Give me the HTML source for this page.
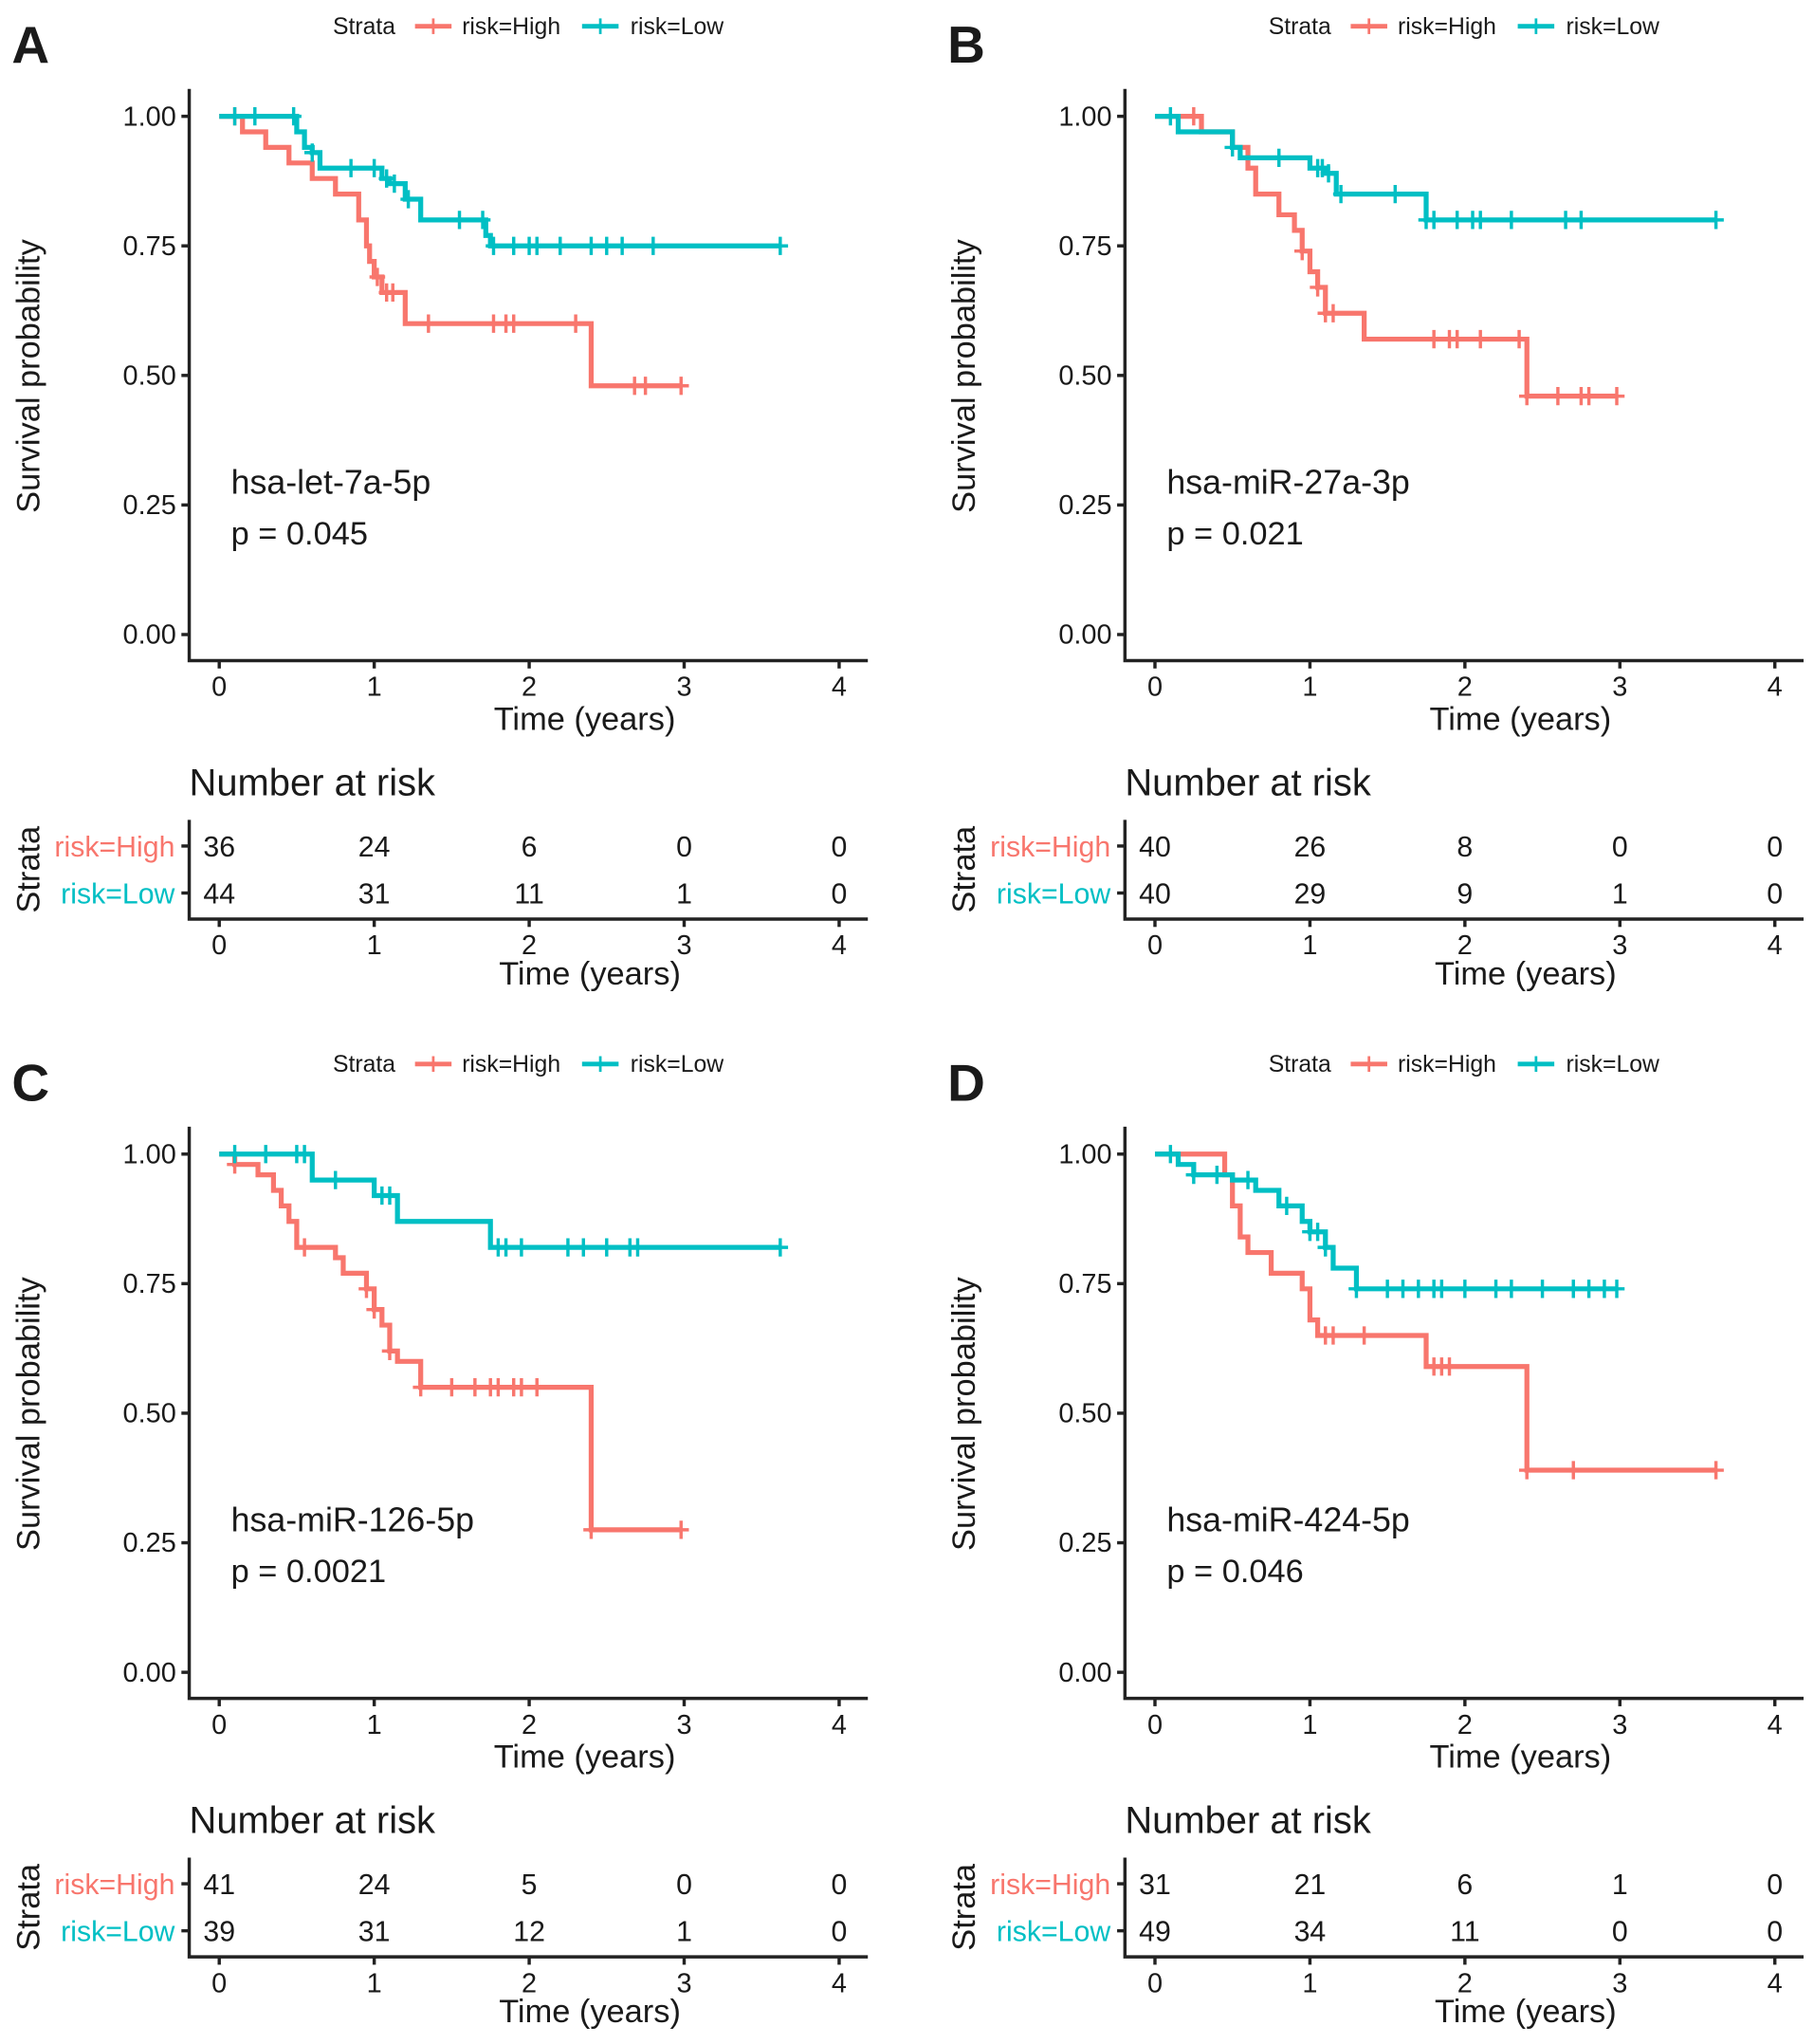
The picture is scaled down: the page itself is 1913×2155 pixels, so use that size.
<!DOCTYPE html>
<html><head><meta charset="utf-8"><style>
html,body{margin:0;padding:0;background:#fff;}
svg text{font-family:"Liberation Sans",sans-serif;fill:#1a1a1a;}
</style></head><body>
<svg id="fig" xmlns="http://www.w3.org/2000/svg" width="1913" height="2150" viewBox="0 0 1390 1562"></svg>
<script>
// ---- data ----
const panelLetters = ["A","B","C","D"];
const geneNames = ["hsa-let-7a-5p","hsa-miR-27a-3p","hsa-miR-126-5p","hsa-miR-424-5p"];
const pValues = ["p = 0.045","p = 0.021","p = 0.0021","p = 0.046"];
const xTicks = [0,1,2,3,4];
const yTicks = [0,0.25,0.5,0.75,1];
const yTickLabels = ["0.00","0.25","0.50","0.75","1.00"];
// step curves: [time, survival after step]
const highA = [[0,1],[0.15,0.97],[0.3,0.94],[0.45,0.91],[0.6,0.88],[0.75,0.85],[0.9,0.80],[0.95,0.75],[0.97,0.72],[1.0,0.69],[1.05,0.66],[1.2,0.60],[2.4,0.48],[2.98,0.48]];
const lowA = [[0,1],[0.5,0.97],[0.55,0.94],[0.6,0.93],[0.65,0.90],[1.05,0.88],[1.1,0.87],[1.2,0.84],[1.3,0.80],[1.72,0.77],[1.75,0.75],[3.62,0.75]];
const highB = [[0,1],[0.3,0.97],[0.5,0.94],[0.6,0.90],[0.65,0.85],[0.8,0.81],[0.9,0.78],[0.95,0.74],[1.0,0.70],[1.05,0.67],[1.1,0.62],[1.35,0.57],[2.4,0.46],[2.98,0.46]];
const lowB = [[0,1],[0.15,0.97],[0.5,0.94],[0.55,0.92],[1.0,0.90],[1.1,0.89],[1.17,0.85],[1.75,0.80],[3.62,0.80]];
const highC = [[0,1],[0.1,0.98],[0.25,0.96],[0.35,0.93],[0.4,0.90],[0.45,0.87],[0.5,0.82],[0.75,0.80],[0.8,0.77],[0.95,0.74],[1.0,0.70],[1.05,0.67],[1.1,0.62],[1.15,0.60],[1.3,0.55],[2.4,0.275],[2.98,0.275]];
const lowC = [[0,1],[0.6,0.95],[1.0,0.92],[1.15,0.87],[1.75,0.82],[3.62,0.82]];
const highD = [[0,1],[0.45,0.96],[0.5,0.90],[0.55,0.84],[0.6,0.81],[0.75,0.77],[0.95,0.74],[1.0,0.68],[1.05,0.65],[1.75,0.59],[2.4,0.39],[3.62,0.39]];
const lowD = [[0,1],[0.15,0.98],[0.25,0.96],[0.5,0.95],[0.65,0.93],[0.8,0.90],[0.95,0.87],[1.0,0.85],[1.1,0.82],[1.15,0.78],[1.3,0.74],[2.98,0.74]];
const highCensA = [0.1,1.02,1.08,1.12,1.35,1.77,1.85,1.9,2.3,2.68,2.75,2.98];
const lowCensA = [0.1,0.23,0.48,0.6,0.85,1.0,1.08,1.13,1.22,1.55,1.7,1.77,1.9,2.0,2.05,2.2,2.4,2.5,2.6,2.8,3.62];
const highCensB = [0.25,0.95,1.05,1.1,1.15,1.8,1.9,1.95,2.1,2.35,2.4,2.6,2.75,2.8,2.98];
const lowCensB = [0.1,0.5,0.8,1.05,1.08,1.12,1.2,1.55,1.75,1.8,1.95,2.05,2.1,2.3,2.65,2.75,3.62];
const highCensC = [0.1,0.55,0.95,1.0,1.1,1.3,1.5,1.65,1.75,1.8,1.9,1.95,2.05,2.4,2.98];
const lowCensC = [0.1,0.3,0.5,0.55,0.75,1.05,1.1,1.8,1.85,1.95,2.25,2.35,2.5,2.65,2.7,3.62];
const highCensD = [1.1,1.15,1.35,1.8,1.85,1.9,2.4,2.7,3.62];
const lowCensD = [0.1,0.25,0.4,0.6,0.85,1.0,1.05,1.1,1.3,1.5,1.6,1.7,1.8,1.85,2.0,2.2,2.3,2.5,2.7,2.8,2.9,2.98];
const riskHighA = [36,24,6,0,0], riskLowA = [44,31,11,1,0];
const riskHighB = [40,26,8,0,0], riskLowB = [40,29,9,1,0];
const riskHighC = [41,24,5,0,0], riskLowC = [39,31,12,1,0];
const riskHighD = [31,21,6,1,0], riskLowD = [49,34,11,0,0];

const RED="#F8766D", TEAL="#00BFC4";
const svg=document.getElementById('fig');
const NS="http://www.w3.org/2000/svg";
function mk(tag,attrs,parent,txt){const e=document.createElementNS(NS,tag);for(const k in attrs)e.setAttribute(k,attrs[k]);if(txt!==undefined)e.textContent=txt;parent.appendChild(e);return e;}

const panels=[
 {dx:0,dy:0,high:highA,low:lowA,hc:highCensA,lc:lowCensA,rh:riskHighA,rl:riskLowA},
 {dx:717,dy:0,high:highB,low:lowB,hc:highCensB,lc:lowCensB,rh:riskHighB,rl:riskLowB},
 {dx:0,dy:795,high:highC,low:lowC,hc:highCensC,lc:lowCensC,rh:riskHighC,rl:riskLowC},
 {dx:717,dy:795,high:highD,low:lowD,hc:highCensD,lc:lowCensD,rh:riskHighD,rl:riskLowD}];

panels.forEach((p,i)=>{
 const g=mk('g',{transform:`translate(${p.dx},${p.dy})`},svg);
 
 
 const X=t=>168+118.75*t, Y=s=>486-397*s;
 let e;
 e=mk('text',{x:9,y:48,'font-size':40,'font-weight':'bold'},g,panelLetters[i]);
 
 // legend
 const lg=mk('g',{},g);
 mk('text',{x:255,y:26,'font-size':18},lg,'Strata');
 mk('line',{x1:318,x2:346,y1:20,y2:20,stroke:RED,'stroke-width':3.5},lg);
 mk('line',{x1:332,x2:332,y1:14,y2:26,stroke:RED,'stroke-width':2},lg);
 e=mk('text',{x:354,y:26,'font-size':18},lg,'risk=High');
 mk('line',{x1:446,x2:474,y1:20,y2:20,stroke:TEAL,'stroke-width':3.5},lg);
 mk('line',{x1:460,x2:460,y1:14,y2:26,stroke:TEAL,'stroke-width':2},lg);
 e=mk('text',{x:483,y:26,'font-size':18},lg,'risk=Low');
 // axes
 e=mk('path',{d:'M145,68 V506 H665',fill:'none',stroke:'#222','stroke-width':2.5},g);
 
 yTicks.forEach((v,k)=>{
  mk('line',{x1:139,x2:145,y1:Y(v),y2:Y(v),stroke:'#222','stroke-width':2.5},g);
  e=mk('text',{x:135,y:Y(v)+7,'font-size':21,'text-anchor':'end'},g,yTickLabels[k]);
  
 });
 xTicks.forEach(v=>{
  mk('line',{x1:X(v),x2:X(v),y1:506,y2:512,stroke:'#222','stroke-width':2.5},g);
  e=mk('text',{x:X(v),y:533,'font-size':21,'text-anchor':'middle'},g,String(v));
  
 });
 e=mk('text',{x:448,y:559,'font-size':25,'text-anchor':'middle'},g,'Time (years)');
 
 e=mk('text',{x:0,y:0,'font-size':25,'text-anchor':'middle',transform:'translate(30,288) rotate(-90)'},g,'Survival probability');
 
 // curves
 [[p.high,p.hc,RED,'high'],[p.low,p.lc,TEAL,'low']].forEach(([pts,cens,col,nm])=>{
  let d=`M${X(pts[0][0])},${Y(pts[0][1])}`;
  for(let k=1;k<pts.length;k++){d+=` H${X(pts[k][0])} V${Y(pts[k][1])}`;}
  e=mk('path',{d:d,fill:'none',stroke:col,'stroke-width':3.8},g);
  
  cens.forEach(t=>{
   let s=pts[0][1];for(const q of pts){if(q[0]<=t)s=q[1];}
   const c=mk('path',{d:`M${X(t)-6},${Y(s)} H${X(t)+6} M${X(t)},${Y(s)-7} V${Y(s)+7}`,stroke:col,'stroke-width':2.5},g);
   
  });
 });
 e=mk('text',{x:177,y:378,'font-size':26},g,geneNames[i]);
 
 e=mk('text',{x:177,y:417,'font-size':25},g,pValues[i]);
 
 // risk table
 e=mk('text',{x:145,y:609,'font-size':29},g,'Number at risk');
 
 mk('path',{d:'M145,628 V704 H665',fill:'none',stroke:'#222','stroke-width':2.5},g);
 mk('line',{x1:139,x2:145,y1:648,y2:648,stroke:'#222','stroke-width':2.5},g);
 mk('line',{x1:139,x2:145,y1:684,y2:684,stroke:'#222','stroke-width':2.5},g);
 e=mk('text',{x:134,y:656,'font-size':22,'text-anchor':'end',style:'fill:'+RED},g,'risk=High');
 
 e=mk('text',{x:134,y:692,'font-size':22,'text-anchor':'end',style:'fill:'+TEAL},g,'risk=Low');
 
 e=mk('text',{x:0,y:0,'font-size':25,'text-anchor':'middle',transform:'translate(30,666) rotate(-90)'},g,'Strata');
 
 xTicks.forEach((v,k)=>{
  e=mk('text',{x:X(v),y:656,'font-size':22,'text-anchor':'middle'},g,String(p.rh[k]));
  
  e=mk('text',{x:X(v),y:692,'font-size':22,'text-anchor':'middle'},g,String(p.rl[k]));
  
  mk('line',{x1:X(v),x2:X(v),y1:704,y2:710,stroke:'#222','stroke-width':2.5},g);
  e=mk('text',{x:X(v),y:731,'font-size':21,'text-anchor':'middle'},g,String(v));
  
 });
 e=mk('text',{x:452,y:754,'font-size':25,'text-anchor':'middle'},g,'Time (years)');
 
});
</script>
</body></html>
